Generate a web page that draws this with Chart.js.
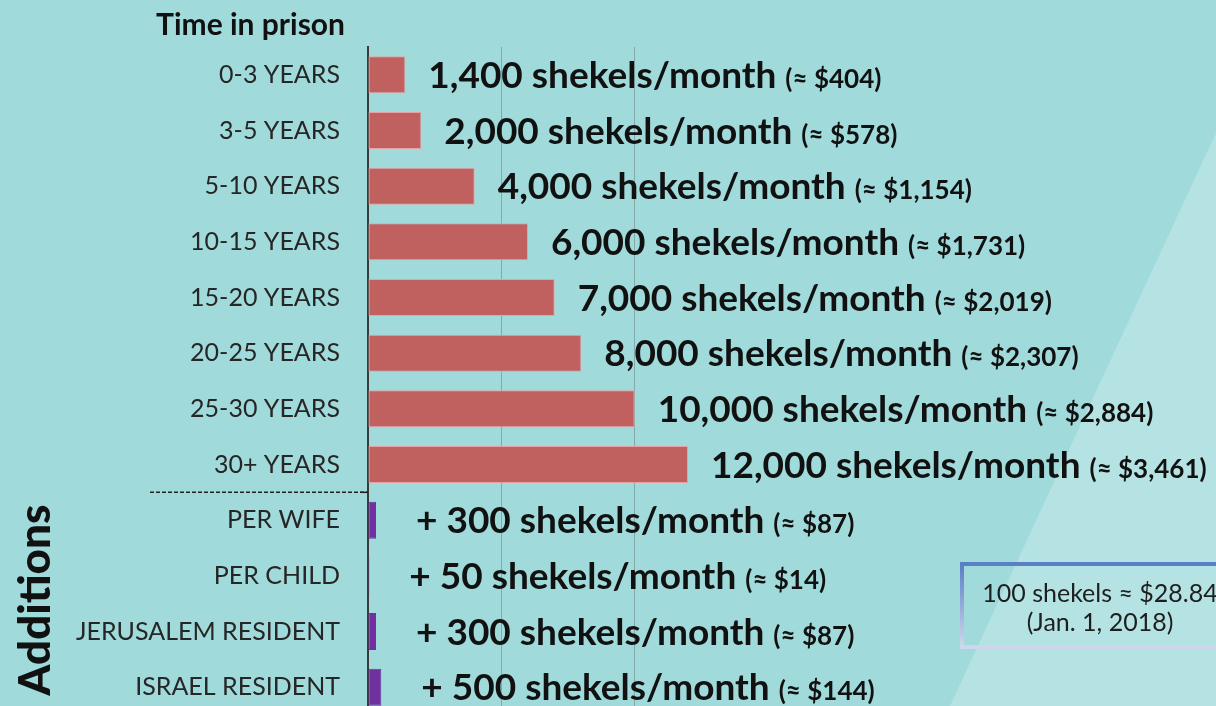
<!DOCTYPE html>
<html>
<head>
<meta charset="utf-8">
<script src="https://cdn.jsdelivr.net/npm/chart.js@4.4.1/dist/chart.umd.min.js"></script>
<style>
  html, body { margin: 0; padding: 0; width: 1216px; height: 706px; overflow: hidden; background: #a1dadb; }
  #wrap { position: absolute; left: 0; top: 0; width: 1216px; height: 750px; }
  #note {
    position: absolute; left: 960px; top: 562px; width: 272px; height: 67px;
    border: 4px solid; border-image: linear-gradient(#5a7fc6, #cfd6ee) 1;
    font-family: Lato, sans-serif; font-size: 25px; color: #1e1e1e;
    text-align: center; line-height: 29px; padding-top: 12px; box-sizing: content-box;
  }
</style>
</head>
<body>
<div id="wrap"><canvas id="c" width="1216" height="750"></canvas></div>
<div id="note">100 shekels ≈ $28.84<br>(Jan. 1, 2018)</div>
<script>
const categories = ["0-3 YEARS","3-5 YEARS","5-10 YEARS","10-15 YEARS","15-20 YEARS","20-25 YEARS","25-30 YEARS","30+ YEARS","PER WIFE","PER CHILD","JERUSALEM RESIDENT","ISRAEL RESIDENT"];
const shekels = [1400, 2000, 4000, 6000, 7000, 8000, 10000, 12000, 300, 50, 300, 500];
const mainLabels = ["1,400 shekels/month","2,000 shekels/month","4,000 shekels/month","6,000 shekels/month","7,000 shekels/month","8,000 shekels/month","10,000 shekels/month","12,000 shekels/month","+ 300 shekels/month","+ 50 shekels/month","+ 300 shekels/month","+ 500 shekels/month"];
const dollarLabels = ["(≈ $404)","(≈ $578)","(≈ $1,154)","(≈ $1,731)","(≈ $2,019)","(≈ $2,307)","(≈ $2,884)","(≈ $3,461)","(≈ $87)","(≈ $14)","(≈ $87)","(≈ $144)"];
const gridTicks = [5000, 10000];
const prisonCount = 8;

const bgPlugin = {
  id: 'bg',
  beforeDraw(chart) {
    const ctx = chart.ctx, w = chart.width, h = chart.height;
    ctx.save();
    ctx.fillStyle = '#a1dadb';
    ctx.fillRect(0, 0, w, h);
    ctx.fillStyle = '#b5e3e3';
    const xb = 1216 - 266 * (h - 133) / 573;
    ctx.beginPath();
    ctx.moveTo(w, 133);
    ctx.lineTo(xb, h);
    ctx.lineTo(w, h);
    ctx.closePath();
    ctx.fill();
    ctx.restore();
  }
};

const decoPlugin = {
  id: 'deco',
  afterDatasetsDraw(chart) {
    const ctx = chart.ctx;
    const y = chart.scales.y, x = chart.scales.x;
    const meta = chart.getDatasetMeta(0);
    ctx.save();
    // title
    ctx.fillStyle = '#111';
    ctx.font = 'bold 30px Lato';
    ctx.textAlign = 'right';
    ctx.textBaseline = 'middle';
    ctx.fillText('Time in prison', 345, 25);
    // Additions vertical
    ctx.save();
    ctx.translate(50, 600);
    ctx.rotate(-Math.PI / 2);
    ctx.textAlign = 'center';
    ctx.textBaseline = 'alphabetic';
    ctx.font = '900 44px Lato';
    ctx.fillText('Additions', 0, 0);
    ctx.restore();
    // separator
    const sepY = (y.getPixelForValue(prisonCount - 1) + y.getPixelForValue(prisonCount)) / 2;
    ctx.strokeStyle = '#222';
    ctx.lineWidth = 1.5;
    ctx.setLineDash([4, 2]);
    ctx.beginPath();
    ctx.moveTo(150, sepY);
    ctx.lineTo(x.left, sepY);
    ctx.stroke();
    ctx.setLineDash([]);
    ctx.beginPath();
    ctx.moveTo(x.left - 8, sepY);
    ctx.lineTo(x.left, sepY);
    ctx.stroke();
    // data labels
    meta.data.forEach((bar, i) => {
      const off = i < prisonCount ? 23 : 40;
      const lx = bar.x + off;
      const base = bar.y + 13;
      ctx.textAlign = 'left';
      ctx.textBaseline = 'alphabetic';
      ctx.fillStyle = '#111';
      ctx.font = 'bold 37px Lato';
      ctx.fillText(mainLabels[i], lx, base);
      const w1 = ctx.measureText(mainLabels[i] + ' ').width;
      ctx.font = 'bold 26px Lato';
      ctx.fillText(dollarLabels[i], lx + w1, base);
    });
    ctx.restore();
  }
};

new Chart(document.getElementById('c'), {
  type: 'bar',
  data: {
    labels: categories,
    datasets: [{
      data: shekels,
      backgroundColor: shekels.map((v, i) => i < prisonCount ? '#c0605f' : '#7030a0'),
      borderColor: shekels.map((v, i) => i < prisonCount ? '#e4a3a2' : '#7030a0'),
      borderWidth: 1,
      borderSkipped: false,
      categoryPercentage: 1,
      barPercentage: 0.665
    }]
  },
  options: {
    indexAxis: 'y',
    responsive: false,
    animation: false,
    layout: { padding: { top: 47, right: 448, bottom: 6, left: 0 } },
    plugins: { legend: { display: false }, tooltip: { enabled: false } },
    scales: {
      x: {
        min: 0, max: 15000,
        afterBuildTicks(s) { s.ticks = [0].concat(gridTicks).map(v => ({ value: v })); },
        afterFit(s) { s.height = 0; },
        ticks: { display: false },
        border: { display: false },
        grid: {
          drawTicks: false,
          color: ctx => gridTicks.includes(ctx.tick && ctx.tick.value) ? 'rgba(110,130,130,0.55)' : 'rgba(0,0,0,0)',
          lineWidth: 1
        }
      },
      y: {
        afterFit(s) { s.width = 368; },
        border: { display: true, color: '#3a3a3a', width: 2 },
        grid: { display: false },
        ticks: {
          color: '#262626',
          font: { family: 'Lato', size: 25 },
          padding: 20,
          autoSkip: false
        }
      }
    }
  },
  plugins: [bgPlugin, decoPlugin]
});
</script>
</body>
</html>
